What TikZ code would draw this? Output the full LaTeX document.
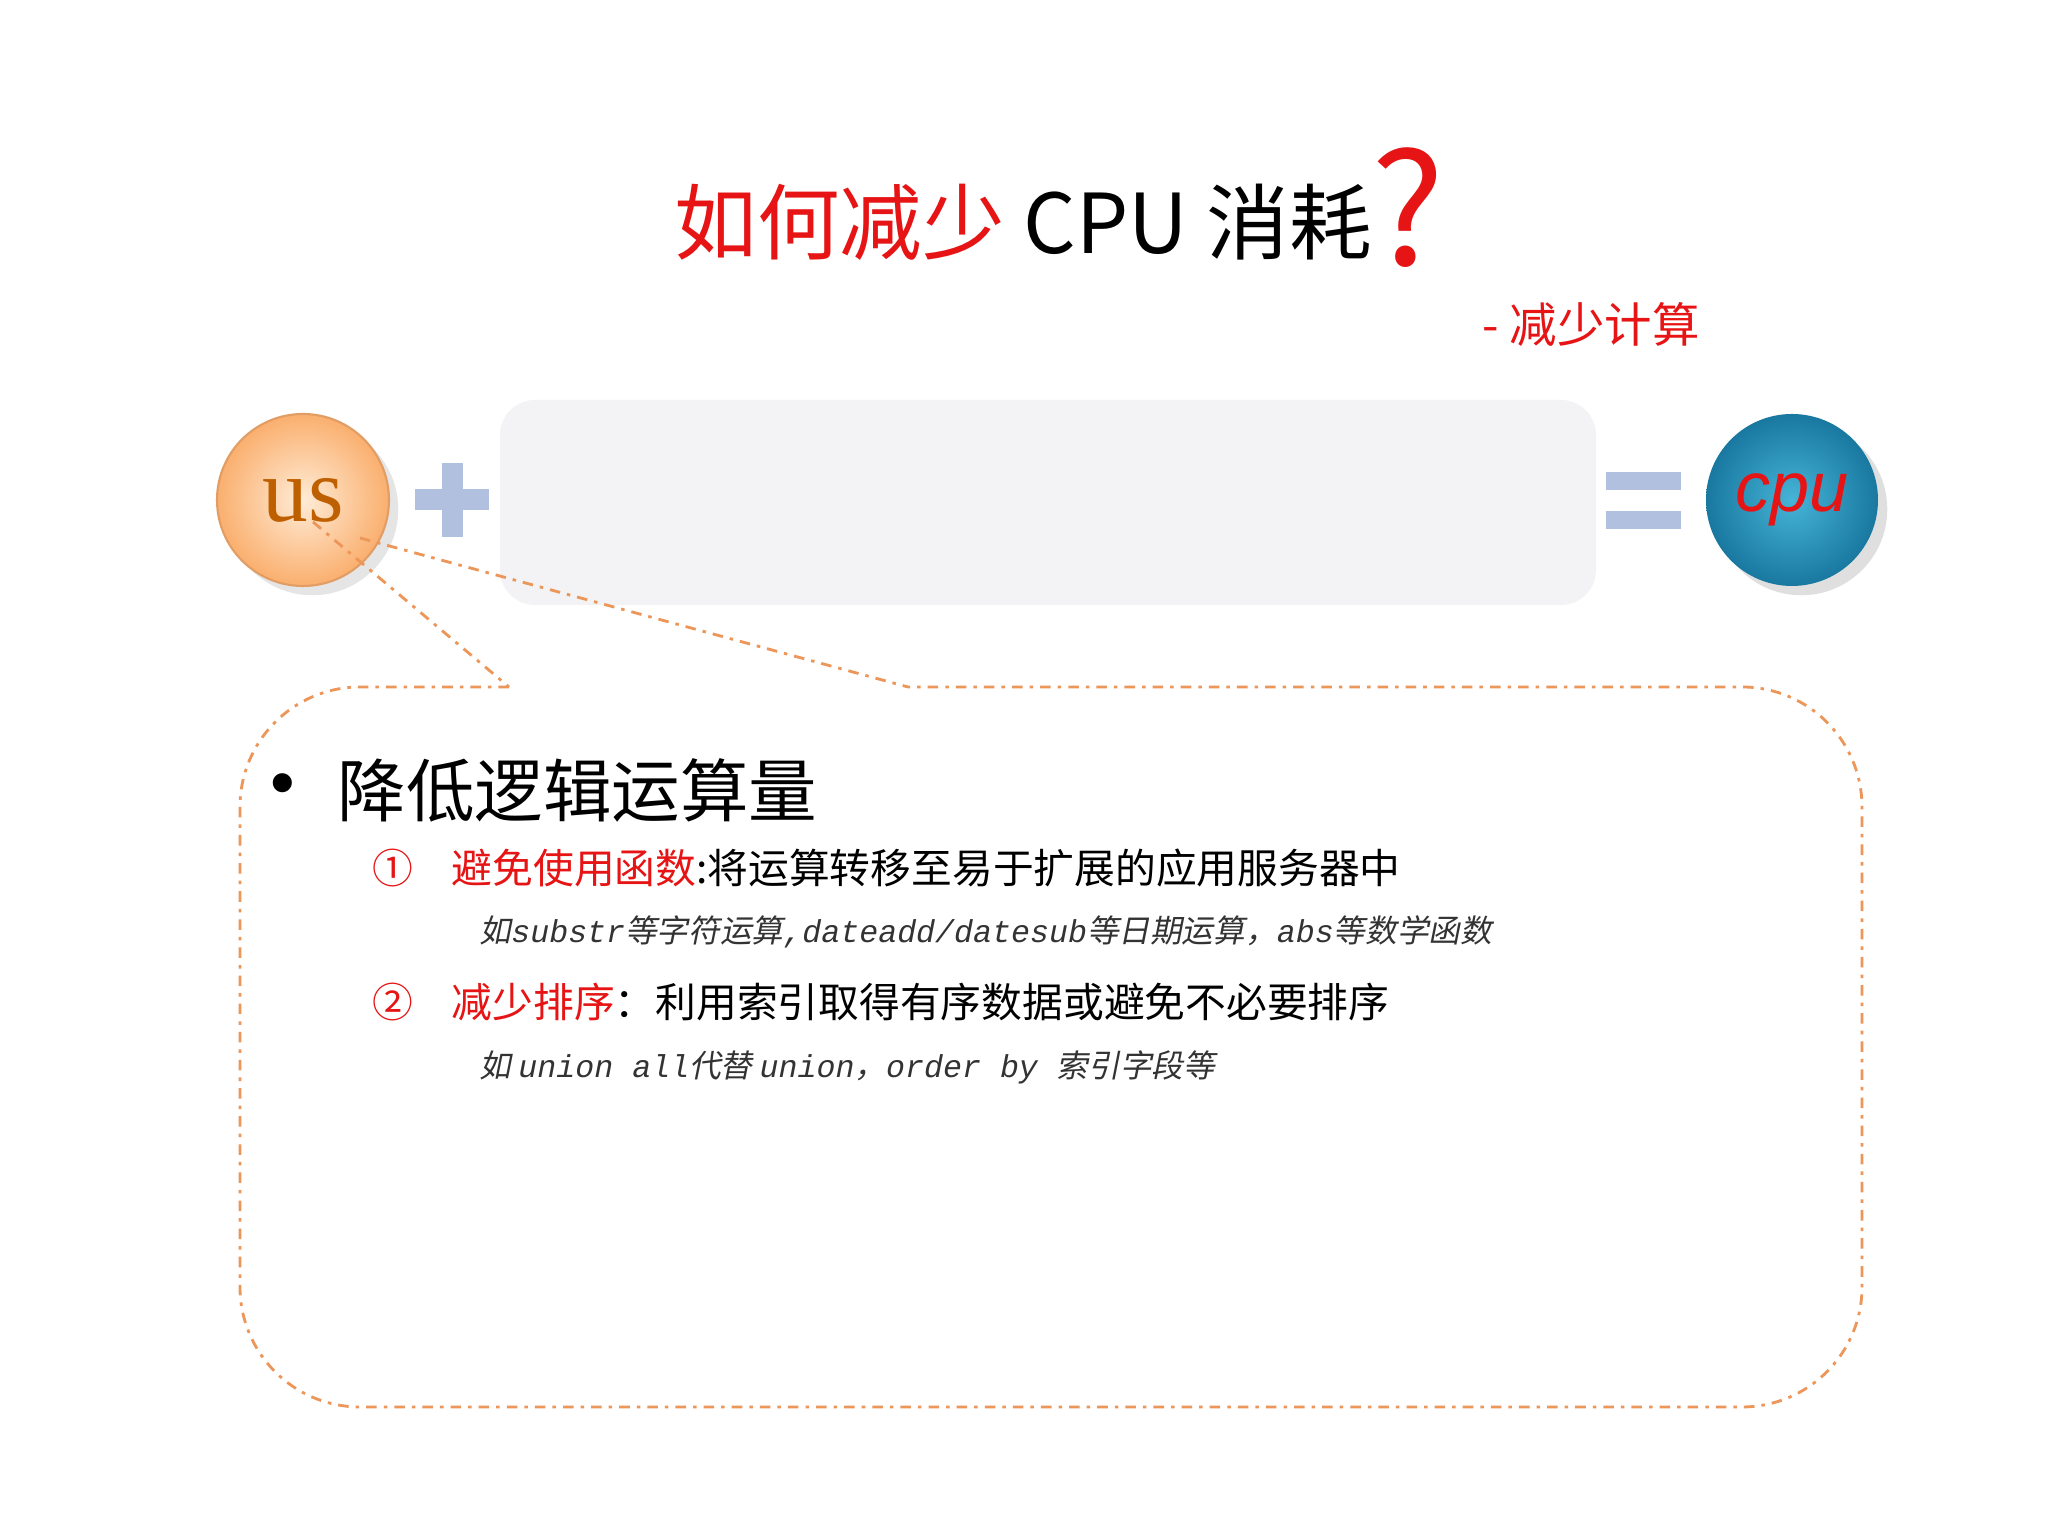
\documentclass[tikz,border=0pt]{standalone}
\usepackage{fontspec}
\setmainfont{Liberation Sans}
\newfontfamily\cjk{Noto Sans CJK SC}
\newfontfamily\cjkit[FakeSlant=0.2]{Noto Sans CJK SC}
\newfontfamily\monoit{Liberation Mono Italic}
\newfontfamily\serifb{Liberation Serif}
\usetikzlibrary{shadows}
\definecolor{tred}{RGB}{230,20,20}
\definecolor{dashor}{RGB}{236,150,90}
\definecolor{opblue}{RGB}{176,192,222}
\definecolor{boxgray}{RGB}{243,243,245}
\definecolor{usin}{RGB}{255,236,215}
\definecolor{usout}{RGB}{250,175,110}
\definecolor{cpuin}{RGB}{70,180,215}
\definecolor{cpuout}{RGB}{25,120,160}
\tikzset{
  callout/.style={draw=dashor, line width=0.8pt, dash pattern=on 3pt off 2pt on 1pt off 2pt},
  optxt/.style={anchor=west, inner sep=0pt},
  opbar/.style={fill=opblue, draw=none}
}
\begin{document}
\begin{tikzpicture}
\useasboundingbox[fill=white] (0,0) rectangle (20.48,15.36);
% title
\node (title) at (10.6,13.28) {\cjk\fontsize{23.5}{30}\selectfont\color{tred}如何减少\color{black}\ CPU 消耗\raisebox{-0.15em}{\color{tred}\fontsize{44}{44}\selectfont ?}};
\node[optxt] (sub) at (14.82,12.12) {\cjk\fontsize{13.5}{17}\selectfont\color{tred}- 减少计算};
% gray box
\node[draw=none, fill=boxgray, rounded corners=0.35cm, minimum width=10.96cm, minimum height=2.05cm] (box) at (10.48,10.335) {};
% us circle
\node[circle, minimum size=1.72cm, draw=usout!90!black, line width=0.6pt, inner color=usin, outer color=usout, drop shadow={opacity=0.2}] (us) at (3.03,10.36) {\serifb\fontsize{26}{26}\selectfont\color{orange!75!black}us};
% cpu circle
\node[circle, minimum size=1.72cm, draw=none, inner color=cpuin, outer color=cpuout, drop shadow={opacity=0.25}] (cpu) at (17.92,10.36) {\itshape\fontsize{20}{20}\selectfont\color{tred}cpu};
% plus
\node[opbar, minimum width=0.74cm, minimum height=0.21cm, inner sep=0pt] (plh) at (4.52,10.36) {};
\node[opbar, minimum width=0.21cm, minimum height=0.74cm, inner sep=0pt] (plv) at (4.52,10.36) {};
% equals
\node[opbar, minimum width=0.75cm, minimum height=0.18cm, inner sep=0pt] (eq1) at (16.43,10.55) {};
\node[opbar, minimum width=0.75cm, minimum height=0.18cm, inner sep=0pt] (eq2) at (16.43,10.16) {};
% callout
\coordinate (g1) at (5.09,8.49);
\coordinate (g2) at (9.08,8.49);
\coordinate (s1) at (3.13,10.14);
\coordinate (s2) at (3.6,9.98);
\draw[callout, rounded corners=1.2cm] (g1) -- (2.40,8.49) -- (2.40,1.29) -- (18.62,1.29) -- (18.62,8.49) -- (g2);
\draw[callout] (s1) -- (g1);
\draw[callout] (s2) -- (g2);
% content
\node[optxt] (bul) at (2.7,7.46) {\fontsize{20}{20}\selectfont •};
\node[optxt] (h1) at (3.37,7.46) {\cjk\fontsize{19.5}{24}\selectfont 降低逻辑运算量};
\node[optxt] (n1) at (3.72,6.68) {\cjk\fontsize{11.6}{15}\selectfont\color{tred}①};
\node[optxt] (t1) at (4.51,6.68) {\cjk\fontsize{11.6}{15}\selectfont\color{tred}避免使用函数\color{black}:将运算转移至易于扩展的应用服务器中};
\node[optxt] (i1) at (4.79,6.04) {\fontsize{9}{12}\selectfont\color{black!80}\cjkit 如\monoit substr\cjkit 等字符运算\monoit ,dateadd/datesub\cjkit 等日期运算，\monoit abs\cjkit 等数学函数};
\node[optxt] (n2) at (3.72,5.34) {\cjk\fontsize{11.6}{15}\selectfont\color{tred}②};
\node[optxt] (t2) at (4.51,5.34) {\cjk\fontsize{11.6}{15}\selectfont\color{tred}减少排序\color{black}：利用索引取得有序数据或避免不必要排序};
\node[optxt] (i2) at (4.79,4.69) {\fontsize{9}{12}\selectfont\color{black!80}\cjkit 如 \monoit union all\cjkit 代替 \monoit union\cjkit ，\monoit order by \cjkit 索引字段等};
\end{tikzpicture}
\end{document}
